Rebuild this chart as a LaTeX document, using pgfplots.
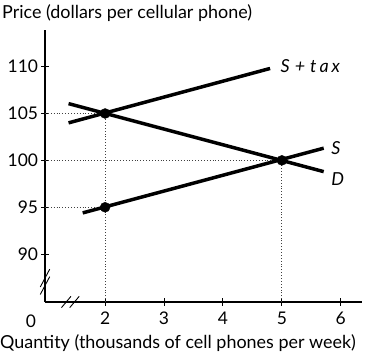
\documentclass[border=0pt]{standalone}
\usepackage{pgfplots}
\pgfplotsset{compat=1.18}
\usepackage{fontspec}
\setmainfont{Lato}
\begin{document}
\begin{tikzpicture}
\useasboundingbox (0,0) rectangle (368bp,356bp);
\begin{axis}[
  at={(45bp,54bp)}, anchor=south west,
  width=317bp, height=272bp, scale only axis,
  xmin=0.98, xmax=6.36, ymin=84.9, ymax=113.9,
  axis x line=bottom, axis y line=left,
  axis line style={-, line width=1.5pt},
  xtick={2,3,4,5,6}, ytick={90,95,100,105,110},
  tick align=center, major tick length=7bp,
  tick style={line width=0.9pt, black},
  tick label style={font=\fontsize{17.5}{20}\selectfont},
  xticklabel style={yshift=-3bp},
  /pgf/number format/assume math mode=true,
  clip=false,
]
\addplot[dotted, line width=0.9pt, gray!50!black] coordinates {(0.98,105) (2,105)};
\addplot[dotted, line width=0.9pt, gray!50!black] coordinates {(0.98,100) (5,100)};
\addplot[dotted, line width=0.9pt, gray!50!black] coordinates {(0.98,95) (2,95)};
\addplot[dotted, line width=0.9pt, gray!50!black] coordinates {(2,84.9) (2,105)};
\addplot[dotted, line width=0.9pt, gray!50!black] coordinates {(5,84.9) (5,100)};
\addplot[line width=3.5pt, black] coordinates {(1.38,104.0) (4.80,109.8)};
\addplot[line width=3.5pt, black] coordinates {(1.62,94.4) (5.71,101.3)};
\addplot[line width=3.5pt, black] coordinates {(1.38,106.05) (5.71,98.8)};
\addplot[only marks, mark=*, mark size=5pt, black] coordinates {(2,105) (5,100) (2,95)};
\node[anchor=west, font=\fontsize{18}{20}\selectfont\itshape] at (axis cs:4.92,110.1) {S\hspace{5pt}+\hspace{5pt}t\,a\,x};
\node[anchor=west, font=\fontsize{18}{20}\selectfont\itshape] at (axis cs:5.78,101.3) {S};
\node[anchor=west, font=\fontsize{18}{20}\selectfont\itshape] at (axis cs:5.78,98.0) {D};
\draw[line width=0.9pt] (axis cs:0.90,86.5) -- (axis cs:1.06,88.4);
\draw[line width=0.9pt] (axis cs:0.90,85.7) -- (axis cs:1.06,87.6);
\draw[line width=0.9pt] (axis cs:1.26,84.3) -- (axis cs:1.42,85.5);
\draw[line width=0.9pt] (axis cs:1.40,84.3) -- (axis cs:1.56,85.5);
\end{axis}
\node[anchor=center, font=\fontsize{17.5}{20}\selectfont] at (31bp,35bp) {0};
\node[anchor=base west, inner sep=0pt, font=\fontsize{18}{20}\selectfont] at (2bp,337bp) {Price (dollars per cellular phone)};
\node[anchor=base west, inner sep=0pt, font=\fontsize{18}{20}\selectfont] at (0bp,8bp) {Quantity (thousands of cell phones per week)};
\end{tikzpicture}
\end{document}
